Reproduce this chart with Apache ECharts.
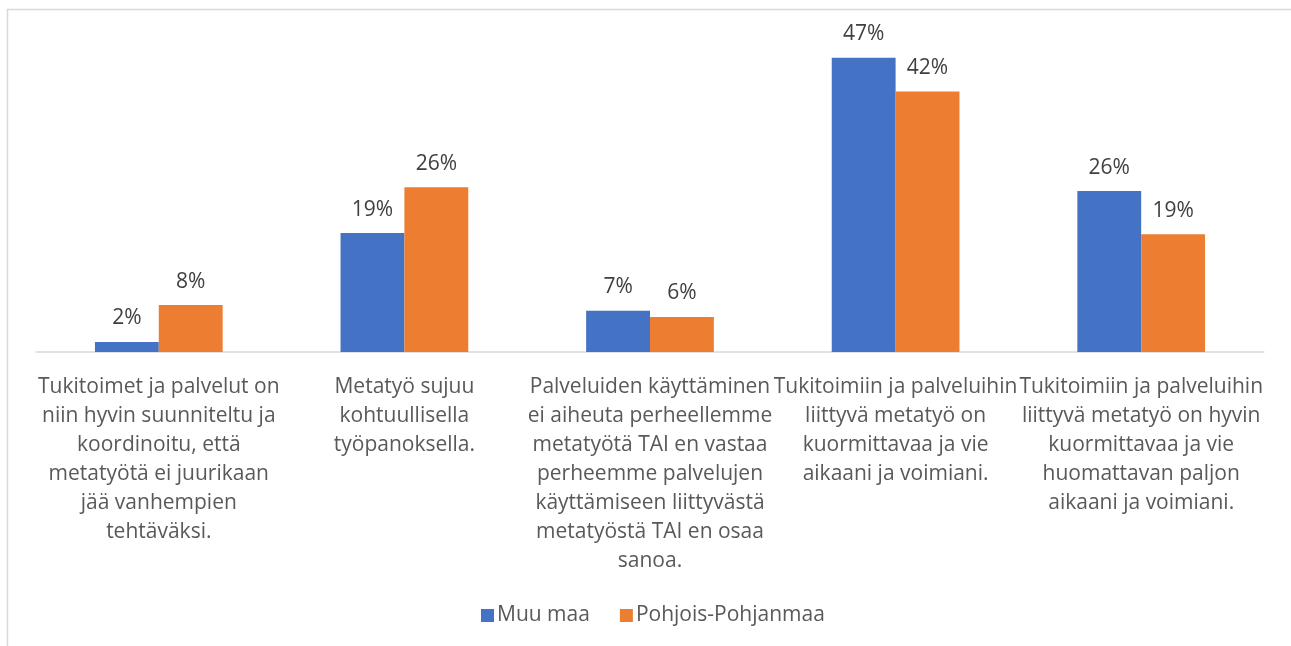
<!DOCTYPE html>
<html>
<head>
<meta charset="utf-8">
<script src="https://cdn.jsdelivr.net/npm/echarts@6/dist/echarts.min.js"></script>
<style>
    html, body { margin: 0; padding: 0; background: #fff; }
    #chart { width: 1291px; height: 646px; }
</style>
</head>
<body>
<div id="chart"></div>
<script>
// data
var categories = [
    "Tukitoimet ja palvelut on\nniin hyvin suunniteltu ja\nkoordinoitu, että\nmetatyötä ei juurikaan\njää vanhempien\ntehtäväksi.",
    "Metatyö sujuu\nkohtuullisella\ntyöpanoksella.",
    "Palveluiden käyttäminen\nei aiheuta perheellemme\nmetatyötä TAI en vastaa\nperheemme palvelujen\nkäyttämiseen liittyvästä\nmetatyöstä TAI en osaa\nsanoa.",
    "Tukitoimiin ja palveluihin\nliittyvä metatyö on\nkuormittavaa ja vie\naikaani ja voimiani.",
    "Tukitoimiin ja palveluihin\nliittyvä metatyö on hyvin\nkuormittavaa ja vie\nhuomattavan paljon\naikaani ja voimiani."
];
var seriesNames = ["Muu maa", "Pohjois-Pohjanmaa"];
var muuMaa = [1.6, 19.0, 6.6, 47.0, 25.7];
var pohjoisPohjanmaa = [7.5, 26.3, 5.6, 41.6, 18.8];

var fontFamily = '"Open Sans", "Noto Sans", sans-serif';

var chart = echarts.init(document.getElementById('chart'));

function barSeries(name, data, color) {
    return {
        name: name,
        type: 'bar',
        data: data,
        barGap: '0%',
        barCategoryGap: '48%',
        itemStyle: { color: color },
        label: {
            show: true,
            position: 'top',
            distance: 13,
            color: '#404040',
            fontSize: 21,
            fontFamily: fontFamily,
            formatter: function (p) { return Math.round(p.value) + '%'; }
        }
    };
}

var option = {
    animation: false,
    backgroundColor: '#fff',
    graphic: [{
        type: 'rect',
        shape: { x: 7.5, y: 9.5, width: 1400, height: 800 },
        style: { fill: 'none', stroke: '#d9d9d9', lineWidth: 1.5 },
        silent: true
    }],
    grid: { left: 36, right: 27, top: 39, bottom: 294, containLabel: false },
    legend: {
        data: seriesNames,
        left: 476,
        top: 600,
        itemWidth: 13,
        itemHeight: 13,
        itemGap: 30,
        icon: 'rect',
        textStyle: { color: '#595959', fontSize: 21, fontFamily: fontFamily, padding: [0, 0, 0, -2] }
    },
    xAxis: {
        type: 'category',
        data: categories,
        axisLine: { lineStyle: { color: '#d9d9d9', width: 1.5 } },
        axisTick: { show: false },
        axisLabel: {
            interval: 0,
            margin: 21,
            color: '#595959',
            fontSize: 21,
            lineHeight: 29,
            fontFamily: fontFamily,
            align: 'center'
        }
    },
    yAxis: {
        type: 'value',
        min: 0,
        max: 50,
        show: false,
        splitLine: { show: false }
    },
    series: [
        barSeries(seriesNames[0], muuMaa, '#4472C4'),
        barSeries(seriesNames[1], pohjoisPohjanmaa, '#ED7D31')
    ]
};

chart.setOption(option);
</script>
</body>
</html>
